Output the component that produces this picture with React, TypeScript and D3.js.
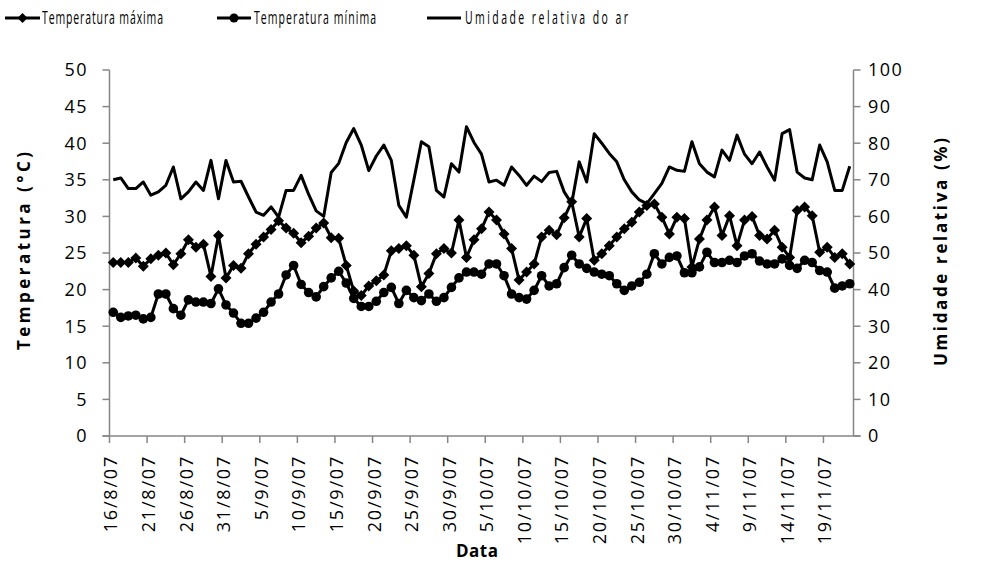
import React from "react";
import * as d3 from "d3";

const tickLabels = ["16/8/07","21/8/07","26/8/07","31/8/07","5/9/07","10/9/07","15/9/07","20/9/07","25/9/07","30/9/07","5/10/07","10/10/07","15/10/07","20/10/07","25/10/07","30/10/07","4/11/07","9/11/07","14/11/07","19/11/07"];

const tempMax = [23.7,23.7,23.7,24.3,23.2,24.2,24.7,25.0,23.4,24.9,26.8,25.8,26.2,21.8,27.4,21.6,23.3,22.9,24.9,26.2,27.2,28.2,29.4,28.4,27.7,26.4,27.3,28.4,29.1,27.1,27.0,23.3,19.8,19.2,20.5,21.2,22.0,25.3,25.6,26.0,24.7,20.4,22.2,24.9,25.6,25.0,29.5,24.4,26.8,28.3,30.6,29.5,27.6,25.6,21.3,22.4,23.5,27.2,28.1,27.5,29.8,32.0,27.2,29.7,24.0,24.9,26.0,27.2,28.3,29.2,30.6,31.5,31.7,29.9,27.6,29.9,29.7,23.1,26.9,29.5,31.3,27.4,30.1,26.0,29.5,30.0,27.4,26.9,28.1,25.8,24.4,30.8,31.3,30.1,25.1,25.8,24.4,24.9,23.5];

const tempMin = [16.9,16.2,16.4,16.5,16.0,16.2,19.4,19.4,17.4,16.5,18.6,18.3,18.3,18.1,20.1,17.9,16.8,15.4,15.4,16.1,16.9,18.3,19.4,22.0,23.3,20.7,19.6,19.0,20.4,21.6,22.5,20.9,18.8,17.7,17.7,18.4,19.6,20.3,18.1,19.9,18.9,18.5,19.4,18.4,18.9,20.3,21.6,22.4,22.4,22.1,23.5,23.5,21.9,19.4,18.9,18.7,19.9,21.9,20.5,20.8,23.0,24.7,23.5,22.9,22.4,22.1,21.9,20.8,19.9,20.5,21.0,22.1,24.9,23.5,24.4,24.6,22.3,22.3,23.1,25.1,23.7,23.7,24.0,23.7,24.6,24.9,23.9,23.5,23.5,24.2,23.3,22.9,24.0,23.7,22.6,22.4,20.2,20.5,20.8];

const humidity = [70.0,70.5,67.6,67.6,69.4,65.8,66.7,68.5,73.5,64.8,66.7,69.4,67.1,75.3,64.8,75.3,69.4,69.6,65.3,61.2,60.3,62.6,59.8,67.1,67.1,71.2,66.0,61.5,60.0,72.0,74.5,80.2,84.0,79.5,72.5,76.5,79.5,75.3,63.0,59.8,70.0,80.4,79.0,67.1,65.3,74.4,72.1,84.5,80.2,77.0,69.4,69.9,68.5,73.5,71.2,68.5,71.0,69.5,72.0,72.3,66.7,63.5,74.9,69.4,82.6,80.0,77.2,74.9,70.0,66.7,64.5,63.5,66.2,69.0,73.5,72.6,72.3,80.4,74.4,72.1,70.8,78.1,75.3,82.2,77.0,74.4,77.6,73.5,69.9,82.6,83.7,72.1,70.5,70.0,79.5,74.9,67.1,67.1,73.7];

const leftTicks = [0,5,10,15,20,25,30,35,40,45,50];
const rightTicks = [0,10,20,30,40,50,60,70,80,90,100];

const W = 987, H = 562;
const AXIS = "#868686";
const FONT = "'Open Sans', sans-serif";

function LegendText({ x, y, width, text }: { x: number; y: number; width: number; text: string }) {
  const sx = 0.6;
  return (
    <text
      transform={`translate(${x},${y}) scale(${sx},1)`}
      dy="0.36em"
      fontFamily={FONT}
      fontSize={17.5}
      textLength={width / sx}
      lengthAdjust="spacing"
      fill="#000"
    >
      {text}
    </text>
  );
}

export default function App() {
  const n = tempMax.length;
  const x = d3.scaleLinear().domain([0, n]).range([109.5, 853.5]);
  const yL = d3.scaleLinear().domain([0, 50]).range([436, 70]);
  const yR = d3.scaleLinear().domain([0, 100]).range([436, 70]);
  const px = (i: number) => x(i + 0.5);

  const lineL = d3.line<number>().x((_, i) => px(i)).y((d) => yL(d));
  const lineR = d3.line<number>().x((_, i) => px(i)).y((d) => yR(d));

  const diamond = (cx: number, cy: number, r: number) =>
    `M${cx},${cy - r}L${cx + r},${cy}L${cx},${cy + r}L${cx - r},${cy}Z`;

  return (
    <svg width={W} height={H} style={{ position: "absolute", left: 0, top: 0, background: "#fff" }}>
      <rect width={W} height={H} fill="#fff" />
      {/* axes */}
      <line x1={x(0)} x2={x(0)} y1={yL(50)} y2={yL(0)} stroke={AXIS} strokeWidth={1.5} />
      <line x1={x(n)} x2={x(n)} y1={yL(50)} y2={yL(0)} stroke={AXIS} strokeWidth={1.5} />
      <line x1={x(0) - 7} x2={x(n) + 7} y1={yL(0)} y2={yL(0)} stroke={AXIS} strokeWidth={1.5} />
      {leftTicks.map((t) => (
        <g key={"l" + t}>
          <line x1={x(0) - 7} x2={x(0)} y1={yL(t)} y2={yL(t)} stroke={AXIS} strokeWidth={1.5} />
          <text x={88} y={yL(t)} dy="0.36em" textAnchor="end" fontFamily={FONT} fontSize={18} letterSpacing={1.5} fill="#000">{t}</text>
        </g>
      ))}
      {rightTicks.map((t) => (
        <g key={"r" + t}>
          <line x1={x(n)} x2={x(n) + 7} y1={yR(t)} y2={yR(t)} stroke={AXIS} strokeWidth={1.5} />
          <text x={868} y={yR(t)} dy="0.36em" textAnchor="start" fontFamily={FONT} fontSize={18} letterSpacing={1.5} fill="#000">{t}</text>
        </g>
      ))}
      {tickLabels.map((lab, k) => {
        const tx = x(k * 5);
        return (
          <g key={"x" + k}>
            <line x1={tx} x2={tx} y1={yL(0)} y2={yL(0) + 7} stroke={AXIS} strokeWidth={1.5} />
            <text transform={`translate(${tx + 1.5},455) rotate(-90)`} dy="0.36em" textAnchor="end" fontFamily={FONT} fontSize={18} letterSpacing={1.8} fill="#000">{lab}</text>
          </g>
        );
      })}
      {/* axis titles */}
      <text transform="translate(24,251) rotate(-90)" dy="0.36em" textAnchor="middle" fontFamily={FONT} fontSize={17} fontWeight="bold" textLength={198} lengthAdjust="spacing">Temperatura (°C)</text>
      <text transform="translate(941,252) rotate(-90)" dy="0.36em" textAnchor="middle" fontFamily={FONT} fontSize={17} fontWeight="bold" textLength={228} lengthAdjust="spacing">Umidade relativa (%)</text>
      <text x={477} y={557} textAnchor="middle" fontFamily={FONT} fontSize={17} fontWeight="bold" textLength={42} lengthAdjust="spacing">Data</text>

      {/* series */}
      <path d={lineL(tempMax) || ""} fill="none" stroke="#000" strokeWidth={3} strokeLinejoin="round" />
      {tempMax.map((v, i) => (
        <path key={"d" + i} d={diamond(px(i), yL(v), 5.5)} fill="#000" />
      ))}
      <path d={lineL(tempMin) || ""} fill="none" stroke="#000" strokeWidth={3} strokeLinejoin="round" />
      {tempMin.map((v, i) => (
        <circle key={"c" + i} cx={px(i)} cy={yL(v)} r={4.8} fill="#000" />
      ))}
      <path d={lineR(humidity) || ""} fill="none" stroke="#000" strokeWidth={3} strokeLinejoin="round" />

      {/* legend */}
      <line x1={5} x2={40} y1={18} y2={18} stroke="#000" strokeWidth={3} />
      <path d={diamond(22.5, 18, 5)} fill="#000" />
      <LegendText x={42} y={18} width={121} text="Temperatura máxima" />
      <line x1={217} x2={251} y1={18} y2={18} stroke="#000" strokeWidth={3} />
      <circle cx={234} cy={18} r={4.5} fill="#000" />
      <LegendText x={254} y={18} width={122} text="Temperatura mínima" />
      <line x1={427} x2={461} y1={18} y2={18} stroke="#000" strokeWidth={3} />
      <LegendText x={465} y={18} width={163} text="Umidade relativa do ar" />
    </svg>
  );
}
